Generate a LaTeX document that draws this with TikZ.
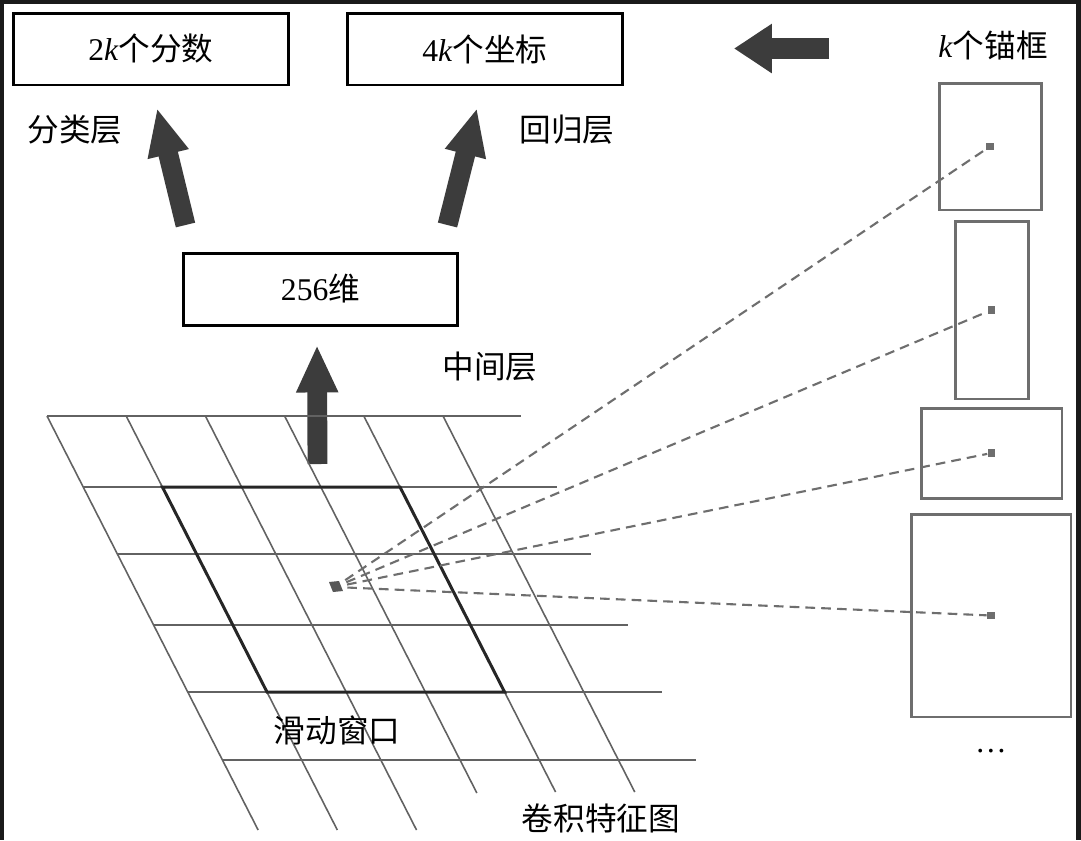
\documentclass[tikz,border=0pt]{standalone}
\usepackage{fontspec}
\setmainfont{Liberation Serif}
\newfontfamily\cjk{Noto Sans CJK SC}
\usetikzlibrary{arrows.meta, positioning}

\definecolor{arrowgray}{HTML}{3C3C3C}
\definecolor{gridgray}{HTML}{626262}
\definecolor{anchorgray}{HTML}{6E6E6E}
\definecolor{framedark}{HTML}{1A1A1A}

\begin{document}
\begin{tikzpicture}[
    x=0.02cm, y=-0.02cm,
    every node/.style={font=\fontsize{18}{22}\selectfont},
    layerbox/.style={draw, line width=1.7pt, minimum width=5.5cm, minimum height=1.44cm, inner sep=0pt},
    anchorbox/.style={draw=anchorgray, line width=1.7pt, inner sep=0pt},
    dot/.style={fill=anchorgray, minimum size=4.5pt, inner sep=0pt},
    gridline/.style={gridgray, line width=0.9pt},
    window/.style={draw=black!85, line width=1.7pt},
    bigarr/.style={arrowgray, line width=11.3pt, -{Triangle[length=27pt, width=22pt]}},
    ray/.style={anchorgray, line width=1.2pt, dash pattern=on 5.5pt off 3.5pt}
]
% frame of the screenshot
\fill[framedark] (0,0) rectangle (1081,840);
\fill[white] (4,4) rectangle (1076,840);

% top row
\node[layerbox] (score) at (151,49) {2\textit{k}{\cjk 个分数}};
\node[layerbox] (coord) at (485,49) {4\textit{k}{\cjk 个坐标}};
\node (anctxt) at (993,45) {\textit{k}{\cjk 个锚框}};
\node (cls) at (75,130) {\cjk 分类层};
\node (reg) at (567,130) {\cjk 回归层};

% middle layer
\node[layerbox] (mid) at (320.5,289) {256{\cjk 维}};
\node (midtxt) at (490,367) {\cjk 中间层};

% block arrows
\coordinate (clsbot) at (185.5,225);
\coordinate (clstip) at (157,108);
\coordinate (regbot) at (447.5,225);
\coordinate (regtip) at (477,108);
\coordinate (midbot) at (317.5,464);
\coordinate (midtip) at (317,345);
\coordinate (ancbot) at (829,48.5);
\coordinate (anctip) at (734,48.5);
\draw[bigarr] (clsbot) -- (clstip);
\draw[bigarr] (regbot) -- (regtip);
\draw[bigarr] (midbot) -- (midtip);
\draw[bigarr, line width=12.5pt, -{Triangle[length=21.5pt, width=26.6pt]}] (ancbot) -- (anctip);

% feature map grid
\foreach \y in {416,487,554,625,692,760}
    \draw[gridline] ({47+0.51*(\y-416)},\y) -- ++(474,0);
\foreach \i/\e in {0/830,1/830,2/830,3/793,4/792,5/792}
    \draw[gridline] ({47+79.2*\i},416) -- ({47+79.2*\i+0.51*(\e-416)},\e);

% sliding window
\draw[window] (162.4,487) -- (400,487) -- (504.6,692) -- (267,692) -- cycle;
\coordinate (ctr) at (335,587);
\fill[anchorgray!80!black] (329,582) -- (339,581) -- (343,591) -- (333,592) -- cycle;

\node (wintxt) at (337,730) {\cjk 滑动窗口};
\node (maptxt) at (601,818) {\cjk 卷积特征图};

% anchors
\node[anchorbox, minimum width=2.04cm, minimum height=2.54cm] (a1) at (990,146.5) {};
\node[anchorbox, minimum width=1.46cm, minimum height=3.56cm] (a2) at (991.5,310) {};
\node[anchorbox, minimum width=2.82cm, minimum height=1.8cm] (a3) at (991.5,453) {};
\node[anchorbox, minimum width=3.2cm, minimum height=4.06cm] (a4) at (991,615.5) {};
\node[dot] (d1) at (a1.center) {};
\node[dot] (d2) at (a2.center) {};
\node[dot] (d3) at (a3.center) {};
\node[dot] (d4) at (a4.center) {};
\node (more) at (991,751) {\dots};

\draw[ray, shorten <=7pt] (ctr) -- (d1);
\draw[ray, shorten <=7pt] (ctr) -- (d2);
\draw[ray, shorten <=7pt] (ctr) -- (d3);
\draw[ray, shorten <=7pt] (ctr) -- (d4);
\end{tikzpicture}
\end{document}
